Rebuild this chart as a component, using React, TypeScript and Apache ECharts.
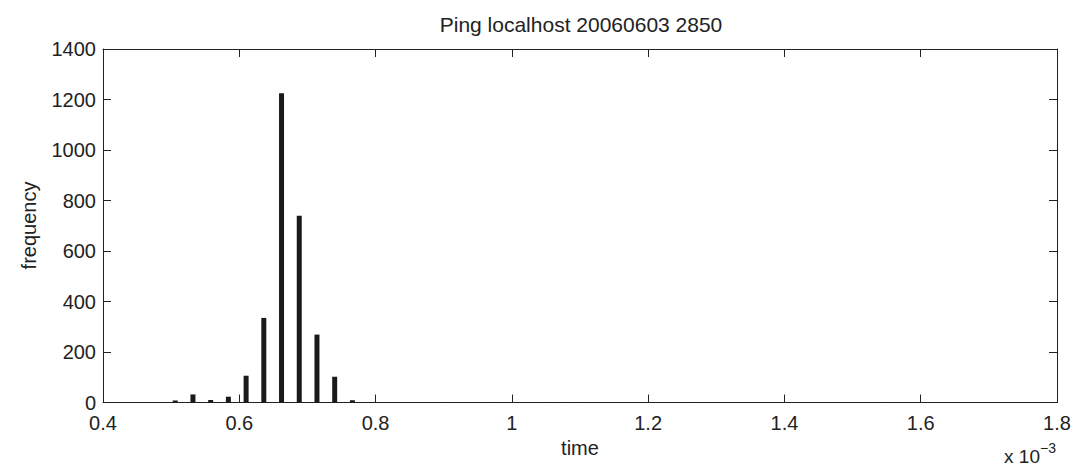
import React, { useEffect, useRef } from "react";
import * as echarts from "echarts";

const TITLE = "Ping localhost 20060603 2850";
const X_NAME = "time";
const Y_NAME = "frequency";
const X_SCALE_TEXT = "x 10";
const X_SCALE_EXP = "−3";

// histogram bin centres (units of 1e-3 s) and counts
const binCenters = [0.506, 0.532, 0.558, 0.584, 0.610, 0.636, 0.662, 0.688, 0.714, 0.740, 0.766, 0.792, 0.897, 0.975, 1.053, 1.079, 1.105, 1.261, 1.547];
const counts = [8, 32, 10, 23, 106, 335, 1225, 740, 269, 102, 9, 2, 1, 1, 1, 1, 1, 1, 1];

const X_MIN = 0.4;
const X_MAX = 1.8;
const X_STEP = 0.2;
const Y_MIN = 0;
const Y_MAX = 1400;
const Y_STEP = 200;

const FONT = "'Liberation Sans', Arial, Helvetica, sans-serif";
const INK = "#222222";

export default function App() {
  const ref = useRef<HTMLDivElement>(null);
  useEffect(() => {
    if (!ref.current) return;
    const chart = echarts.init(ref.current, undefined, { renderer: "svg" });
    const axisLine = { show: true, onZero: false, lineStyle: { color: INK, width: 1 } };
    const tick = { show: true, inside: true, length: 8, lineStyle: { color: INK, width: 1 } };
    const label = { color: INK, fontSize: 20, fontFamily: FONT };
    const data = binCenters.map((c, i) => [c, counts[i]]);
    chart.setOption({
      animation: false,
      backgroundColor: "#ffffff",
      grid: { left: 103, right: 21, top: 49, bottom: 66.5, containLabel: false },
      xAxis: [
        {
          type: "value", min: X_MIN, max: X_MAX, interval: X_STEP, position: "bottom",
          axisLine, axisTick: tick, splitLine: { show: false },
          axisLabel: { ...label, margin: 10, formatter: (v: number) => String(parseFloat(v.toFixed(1))) },
        },
        {
          type: "value", min: X_MIN, max: X_MAX, interval: X_STEP, position: "top",
          axisLine, axisTick: tick, splitLine: { show: false }, axisLabel: { show: false },
        },
      ],
      yAxis: [
        {
          type: "value", min: Y_MIN, max: Y_MAX, interval: Y_STEP, position: "left",
          axisLine, axisTick: tick, splitLine: { show: false },
          axisLabel: { ...label, margin: 7, formatter: (v: number) => String(v) },
        },
        {
          type: "value", min: Y_MIN, max: Y_MAX, interval: Y_STEP, position: "right",
          axisLine, axisTick: tick, splitLine: { show: false }, axisLabel: { show: false },
        },
      ],
      series: [
        {
          type: "bar", xAxisIndex: 0, yAxisIndex: 0, data,
          barWidth: 5, itemStyle: { color: "#1a1a1a" },
        },
      ],
      graphic: [
        { type: "text", x: 581, y: 24.5, style: { text: TITLE, fill: INK, font: `21px ${FONT}`, align: "center", verticalAlign: "middle" } },
        { type: "text", x: 580, y: 447.5, style: { text: X_NAME, fill: INK, font: `20px ${FONT}`, align: "center", verticalAlign: "middle" } },
        { type: "text", x: 29, y: 225.5, rotation: Math.PI / 2, style: { text: Y_NAME, fill: INK, font: `20px ${FONT}`, align: "center", verticalAlign: "middle" } },
        { type: "text", x: 1040, y: 456, style: { text: X_SCALE_TEXT, fill: INK, font: `19px ${FONT}`, align: "right", verticalAlign: "middle" } },
        { type: "text", x: 1040, y: 448, style: { text: X_SCALE_EXP, fill: INK, font: `14px ${FONT}`, align: "left", verticalAlign: "middle" } },
      ],
    });
    return () => chart.dispose();
  }, []);
  return (
    <div
      ref={ref}
      style={{ position: "fixed", left: 0, top: 0, width: 1078, height: 469, background: "#fff" }}
    />
  );
}
